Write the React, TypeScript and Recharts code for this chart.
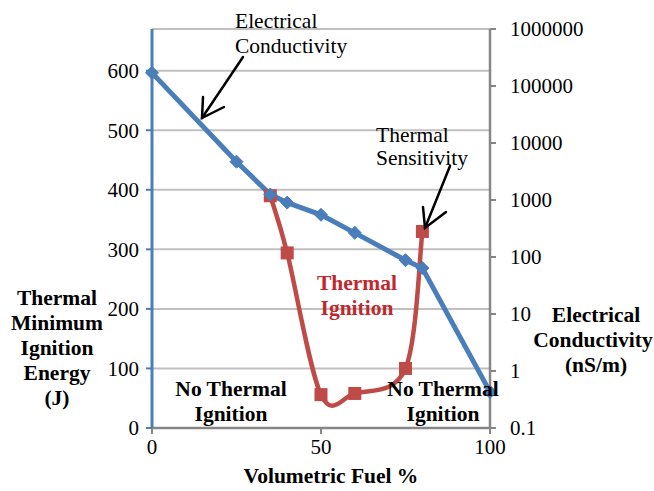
import React from "react";
import { ComposedChart, Line, XAxis, YAxis, CartesianGrid } from "recharts";

// ---- data ----
const fuelPercent = [0, 25, 35, 40, 50, 60, 75, 80, 100];
const conductivity = [170000, 4700, 1250, 900, 550, 265, 88, 64, 0.43];
const thermalMIE: (number | null)[] = [null, null, 390, 294, 56, 58, 100, 330, null];
const xTicks = [0, 50, 100];
const leftTicks = [0, 100, 200, 300, 400, 500, 600];
const rightTicks = [0.1, 1, 10, 100, 1000, 10000, 100000, 1000000];

const data = fuelPercent.map((x, i) => ({ x, ec: conductivity[i], mie: thermalMIE[i] }));

const BLUE = "#4A7EBB";
const RED = "#BE4B48";
const GRAY = "#868686";
const SERIF = "'Liberation Serif', 'DejaVu Serif', serif";

// Excel-like smoothing (Catmull-Rom / cardinal tension 0)
const excelSmooth = (context: any) => {
  let pts: [number, number][] = [];
  return {
    areaStart() {},
    areaEnd() {},
    lineStart() {
      pts = [];
    },
    point(x: number, y: number) {
      pts.push([+x, +y]);
    },
    lineEnd() {
      const n = pts.length;
      if (n === 0) return;
      context.moveTo(pts[0][0], pts[0][1]);
      if (n === 1) return;
      for (let i = 0; i < n - 1; i++) {
        const p0 = pts[i - 1] || pts[i];
        const p1 = pts[i];
        const p2 = pts[i + 1];
        const p3 = pts[i + 2] || p2;
        context.bezierCurveTo(
          p1[0] + (p2[0] - p0[0]) / 6,
          p1[1] + (p2[1] - p0[1]) / 6,
          p2[0] - (p3[0] - p1[0]) / 6,
          p2[1] - (p3[1] - p1[1]) / 6,
          p2[0],
          p2[1]
        );
      }
    },
  };
};

const Diamond = (props: any) => {
  const { cx, cy, key, index } = props;
  if (cx == null || cy == null) return <g key={key ?? `d${index}`} />;
  const s = 6.5;
  return (
    <path
      key={key ?? `d${index}`}
      d={`M${cx},${cy - s}L${cx + s},${cy}L${cx},${cy + s}L${cx - s},${cy}Z`}
      fill={BLUE}
      stroke={BLUE}
    />
  );
};

const Square = (props: any) => {
  const { cx, cy, key, index } = props;
  if (cx == null || cy == null) return <g key={key ?? `s${index}`} />;
  const s = 6.5;
  return <rect key={key ?? `s${index}`} x={cx - s} y={cy - s} width={2 * s} height={2 * s} fill={RED} />;
};

const txtStyle: React.CSSProperties = { fontFamily: SERIF, fontSize: 21.5 };
const boldStyle: React.CSSProperties = { fontFamily: SERIF, fontSize: 21.5, fontWeight: "bold" };
const tickStyle = { fill: "#000", fontSize: 21, style: { fontFamily: SERIF } };

export default function App() {
  return (
    <div
      style={{
        position: "absolute",
        left: 0,
        top: 0,
        width: 654,
        height: 491,
        background: "#fff",
        fontFamily: SERIF,
      }}
    >
      <ComposedChart
        width={654}
        height={491}
        data={data}
        margin={{ top: 29, right: 64, bottom: 33, left: 92 }}
        style={{ fontFamily: SERIF }}
      >
        <CartesianGrid yAxisId="left" vertical={false} stroke="#C0C0C0" strokeWidth={2} />
        <XAxis
          dataKey="x"
          type="number"
          domain={[0, 100]}
          ticks={xTicks}
          height={30}
          axisLine={{ stroke: GRAY, strokeWidth: 2.5 }}
          tickLine={{ stroke: GRAY, strokeWidth: 2 }}
          tickSize={6}
          tickMargin={5}
          tick={tickStyle}
        />
        <YAxis
          yAxisId="left"
          orientation="left"
          width={60}
          domain={[0, 670]}
          ticks={leftTicks}
          allowDataOverflow
          axisLine={{ stroke: BLUE, strokeWidth: 3 }}
          tickLine={{ stroke: BLUE, strokeWidth: 2 }}
          tickSize={6}
          tickMargin={7}
          tick={tickStyle}
        />
        <YAxis
          yAxisId="right"
          orientation="right"
          width={100}
          scale="log"
          domain={[0.1, 1000000]}
          ticks={rightTicks}
          allowDataOverflow
          axisLine={{ stroke: GRAY, strokeWidth: 2.5 }}
          tickLine={{ stroke: GRAY, strokeWidth: 2 }}
          tickSize={6}
          tickMargin={14}
          tickFormatter={(v: number) => String(v)}
          tick={tickStyle}
        />
        <Line
          yAxisId="left"
          dataKey="mie"
          type={excelSmooth as any}
          stroke={RED}
          strokeWidth={4.5}
          dot={Square}
          activeDot={false}
          isAnimationActive={false}
        />
        <Line
          yAxisId="right"
          dataKey="ec"
          type="linear"
          stroke={BLUE}
          strokeWidth={5}
          dot={Diamond}
          activeDot={false}
          isAnimationActive={false}
        />
      </ComposedChart>
      <svg
        width={654}
        height={491}
        style={{ position: "absolute", left: 0, top: 0, pointerEvents: "none" }}
      >
        {/* Electrical Conductivity annotation */}
        <text x={235} y={28} style={txtStyle}>Electrical</text>
        <text x={235} y={53} style={txtStyle}>Conductivity</text>
        <g stroke="#000" strokeWidth={2.5} fill="none" strokeLinecap="round">
          <line x1={243} y1={57} x2={202} y2={118} />
          <polyline points="203,97 202,118 224,107" />
        </g>
        {/* Thermal Sensitivity annotation */}
        <text x={376} y={142} style={txtStyle}>Thermal</text>
        <text x={376} y={165} style={txtStyle}>Sensitivity</text>
        <g stroke="#000" strokeWidth={2.5} fill="none" strokeLinecap="round">
          <line x1={450} y1={166} x2={425} y2={228} />
          <polyline points="423,207 425,228 446,212" />
        </g>
        {/* Region labels */}
        <g textAnchor="middle" fill="#C0282D" style={boldStyle}>
          <text x={357} y={290}>Thermal</text>
          <text x={357} y={315}>Ignition</text>
        </g>
        <g textAnchor="middle" fill="#000" style={boldStyle}>
          <text x={231} y={396}>No Thermal</text>
          <text x={231} y={421}>Ignition</text>
          <text x={443} y={396}>No Thermal</text>
          <text x={443} y={421}>Ignition</text>
        </g>
        {/* Axis titles */}
        <g textAnchor="middle" fill="#000" style={boldStyle}>
          <text x={57} y={305}>Thermal</text>
          <text x={57} y={330}>Minimum</text>
          <text x={57} y={355}>Ignition</text>
          <text x={57} y={380}>Energy</text>
          <text x={57} y={405}>(J)</text>
          <text x={596} y={322}>Electrical</text>
          <text x={593} y={347}>Conductivity</text>
          <text x={596} y={372}>(nS/m)</text>
          <text x={331} y={483}>Volumetric Fuel %</text>
        </g>
      </svg>
    </div>
  );
}
